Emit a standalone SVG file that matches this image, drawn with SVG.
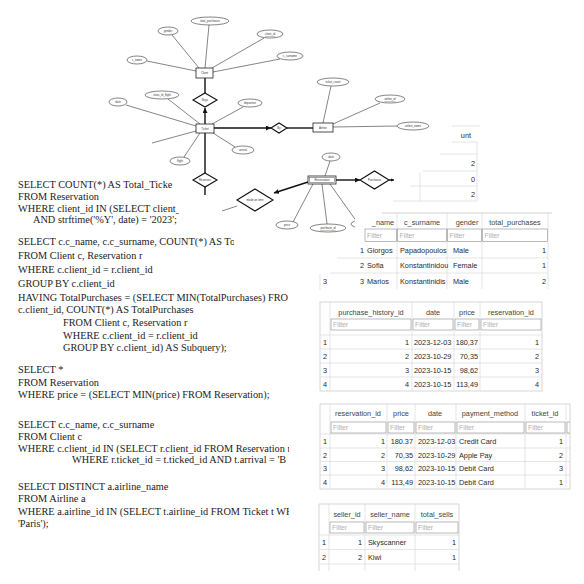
<svg xmlns="http://www.w3.org/2000/svg" width="584" height="584" viewBox="0 0 584 584">
<defs>
<style>
.sql{font-family:"Liberation Serif","Times New Roman",serif;font-size:10.3px;fill:#222}
.ln{stroke:#333;stroke-width:0.6;fill:none}
.tk{stroke:#111;stroke-width:1.4;fill:none}
.attr{fill:#fff;stroke:#333;stroke-width:0.6}
.ent{fill:#fff;stroke:#222;stroke-width:0.8}
.rel{fill:#fff;stroke:#111;stroke-width:1.1}
.lbl{font-family:"Liberation Sans",Arial,sans-serif;font-size:2.8px;fill:#333;text-anchor:middle;dominant-baseline:central}
.t{font-family:"Liberation Sans",Arial,sans-serif;font-size:7.3px;fill:#2a2a2a}
.th{text-anchor:middle;fill:#444}
.r{text-anchor:end}
.flt{fill:#b0b0b0;font-size:6.8px}
.grid{stroke:#dadada;stroke-width:0.7;fill:none}
.fb{fill:#fff;stroke:#8c8c8c;stroke-width:0.6}
.frame{fill:#fff;stroke:#c6c6c6;stroke-width:0.7}
</style>
<marker id="arr" viewBox="0 0 10 10" refX="10" refY="5" markerWidth="5" markerHeight="5" markerUnits="userSpaceOnUse" orient="auto"><path d="M0,0 L10,5 L0,10 z" fill="#111"/></marker>
<marker id="arrs" viewBox="0 0 10 10" refX="10" refY="5" markerWidth="3.5" markerHeight="3.5" markerUnits="userSpaceOnUse" orient="auto"><path d="M0,0 L10,5 L0,10 z" fill="#111"/></marker>
<clipPath id="c178"><rect x="0" y="0" width="179" height="584"/></clipPath>
<clipPath id="c233"><rect x="0" y="0" width="234" height="584"/></clipPath>
<clipPath id="c288"><rect x="0" y="0" width="289" height="584"/></clipPath>
</defs>
<rect width="584" height="584" fill="#fff"/>

<g id="sql-text">
<text class="sql" x="18" y="188" clip-path="url(#c178)">SELECT COUNT(*) AS Total_Ticke</text>
<text class="sql" x="18" y="200">FROM Reservation</text>
<text class="sql" x="18" y="212" clip-path="url(#c178)">WHERE client_id IN (SELECT client_id FR</text>
<text class="sql" x="33" y="223">AND strftime('%Y', date) = '2023';</text>

<text class="sql" x="18" y="245" clip-path="url(#c233)">SELECT c.c_name, c.c_surname, COUNT(*) AS Tot</text>
<text class="sql" x="18" y="259">FROM Client c, Reservation r</text>
<text class="sql" x="18" y="273">WHERE c.client_id = r.client_id</text>
<text class="sql" x="18" y="287">GROUP BY c.client_id</text>
<text class="sql" x="18" y="301" clip-path="url(#c288)">HAVING TotalPurchases = (SELECT MIN(TotalPurchases) FRO</text>
<text class="sql" x="18" y="313">c.client_id, COUNT(*) AS TotalPurchases</text>
<text class="sql" x="63" y="326">FROM Client c, Reservation r</text>
<text class="sql" x="63" y="339">WHERE c.client_id = r.client_id</text>
<text class="sql" x="63" y="351">GROUP BY c.client_id) AS Subquery);</text>

<text class="sql" x="18" y="373">SELECT *</text>
<text class="sql" x="18" y="386">FROM Reservation</text>
<text class="sql" x="18" y="398">WHERE price = (SELECT MIN(price) FROM Reservation);</text>

<text class="sql" x="18" y="428">SELECT c.c_name, c.c_surname</text>
<text class="sql" x="18" y="440">FROM Client c</text>
<text class="sql" x="18" y="452" clip-path="url(#c288)">WHERE c.client_id IN (SELECT r.client_id FROM Reservation r</text>
<text class="sql" x="72" y="463" clip-path="url(#c288)">WHERE r.ticket_id = t.ticked_id AND t.arrival = 'B</text>

<text class="sql" x="18" y="490">SELECT DISTINCT a.airline_name</text>
<text class="sql" x="18" y="502">FROM Airline a</text>
<text class="sql" x="18" y="515" clip-path="url(#c288)">WHERE a.airline_id IN (SELECT t.airline_id FROM Ticket t WH</text>
<text class="sql" x="18" y="527">'Paris');</text>
</g>

<g id="connectors">
<path class="ln" d="M147,61 L196,71"/>
<path class="ln" d="M172,35 L199,68"/>
<path class="ln" d="M209,25 L205,68"/>
<path class="ln" d="M264,38 L212,68"/>
<path class="ln" d="M280,59 L213,72"/>
<path class="ln" d="M168,99 L200,124"/>
<path class="ln" d="M126,105 L196,126"/>
<path class="ln" d="M243,107 L212,124"/>
<path class="ln" d="M235,147 L213,133"/>
<path class="ln" d="M184,157 L200,133"/>
<path class="ln" d="M152,143 L196,131"/>
<path class="ln" d="M331,86 L323,123"/>
<path class="ln" d="M380,103 L333,124"/>
<path class="ln" d="M397,126 L333,127"/>
<path class="ln" d="M330,161 L325,176"/>
<path class="ln" d="M293,222 L313,184"/>
<path class="ln" d="M327,224 L322,184"/>
<path class="ln" d="M330,184 L357,222"/>
<path class="ln" d="M222,211 L237,206"/>
<path class="tk" d="M205,78 L205,93"/>
<path class="tk" d="M205,124 L205,108" marker-end="url(#arr)"/>
<path class="tk" d="M205,133 L205,173"/>
<path class="tk" d="M205,187 L205,195"/>
<path class="tk" d="M214,128 L271,128" marker-end="url(#arr)"/>
<path class="tk" d="M287,128 L313,128"/>
<path class="tk" d="M336,180 L360,180" marker-end="url(#arr)"/>
<path class="tk" d="M389,180 L394,180" marker-end="url(#arrs)"/>
<path class="tk" d="M308,182 L274,193" marker-end="url(#arr)"/>
</g>

<g id="client">
<rect class="ent" x="196" y="68" width="17" height="10"/>
<text class="lbl" x="204.5" y="73">Client</text>
</g>
<g id="attr-c_name"><ellipse class="attr" cx="137" cy="60" rx="10" ry="4"/><text class="lbl" x="137" y="60">c_name</text></g>
<g id="attr-gender"><ellipse class="attr" cx="168" cy="31" rx="10" ry="4"/><text class="lbl" x="168" y="31">gender</text></g>
<g id="attr-total_purchases"><ellipse class="attr" cx="210" cy="21" rx="19" ry="4"/><text class="lbl" x="210" y="21">total_purchases</text></g>
<g id="attr-client_id"><ellipse class="attr" cx="270" cy="34" rx="13" ry="4"/><text class="lbl" x="270" y="34" text-decoration="underline">client_id</text></g>
<g id="attr-c_surname"><ellipse class="attr" cx="290" cy="56" rx="13" ry="4"/><text class="lbl" x="290" y="56">c_surname</text></g>
<g id="rel-buys"><polygon class="rel" points="205,93 217,100 205,107 193,100"/><text class="lbl" x="205" y="100">Buys</text></g>

<g id="ticket">
<rect class="ent" x="196" y="124" width="18" height="9" stroke-width="1.1"/>
<text class="lbl" x="205" y="128.5">Ticket</text>
</g>
<g id="attr-class_of_flight"><ellipse class="attr" cx="162" cy="95" rx="17" ry="4"/><text class="lbl" x="162" y="95">class_of_flight</text></g>
<g id="attr-ticket-date"><ellipse class="attr" cx="118" cy="102" rx="9" ry="4"/><text class="lbl" x="118" y="102">date</text></g>
<g id="attr-departure"><ellipse class="attr" cx="250" cy="103" rx="12" ry="4"/><text class="lbl" x="250" y="103">departure</text></g>
<g id="attr-arrival"><ellipse class="attr" cx="243" cy="150" rx="11" ry="4"/><text class="lbl" x="243" y="150">arrival</text></g>
<g id="attr-flight"><ellipse class="attr" cx="180" cy="161" rx="10" ry="4"/><text class="lbl" x="180" y="161">flight</text></g>
<g id="rel-reserves"><polygon class="rel" points="205,173 217,180 205,187 193,180"/><text class="lbl" x="205" y="180">Reserves</text></g>
<g id="rel-by"><polygon class="rel" points="271,128 279,123 287,128 279,133"/><text class="lbl" x="279" y="128">By</text></g>

<g id="airline">
<rect class="ent" x="313" y="123" width="20" height="9"/>
<text class="lbl" x="323" y="127.5">Airline</text>
</g>
<g id="attr-ticket_count"><ellipse class="attr" cx="333" cy="82" rx="16" ry="4"/><text class="lbl" x="333" y="82">ticket_count</text></g>
<g id="attr-airline_id"><ellipse class="attr" cx="390" cy="99" rx="15" ry="4"/><text class="lbl" x="390" y="99" text-decoration="underline">airline_id</text></g>
<g id="attr-airline_name"><ellipse class="attr" cx="413" cy="126" rx="16" ry="4"/><text class="lbl" x="413" y="126">airline_name</text></g>

<g id="reservation">
<rect class="ent" x="308" y="176" width="28" height="8" stroke-width="1.3"/>
<rect x="309.5" y="177.5" width="25" height="5" fill="none" stroke="#222" stroke-width="0.4"/>
<text class="lbl" x="322" y="180">Reservation</text>
</g>
<g id="attr-res-date"><ellipse class="attr" cx="331" cy="157" rx="9" ry="4"/><text class="lbl" x="331" y="157">date</text></g>
<g id="attr-price"><ellipse class="attr" cx="287" cy="225" rx="11" ry="4"/><text class="lbl" x="287" y="225">price</text></g>
<g id="attr-purchase_id"><ellipse class="attr" cx="328" cy="228" rx="18" ry="4"/><text class="lbl" x="328" y="228" text-decoration="underline">purchase_id</text></g>
<g id="attr-hidden"><ellipse class="attr" cx="364" cy="224" rx="13" ry="4"/></g>
<g id="rel-purchases"><polygon class="rel" points="360,180 374.5,171 389,180 374.5,189"/><text class="lbl" x="374.5" y="180">Purchases</text></g>
<g id="rel-made-on-time"><polygon class="rel" points="237,200 255,189 273,200 255,211"/><text class="lbl" x="255" y="200">made on time</text></g>

<g id="table-count">
<path class="grid" d="M452,126 H480 M452,142 H477 M440,154 H477 M477,142 V201 M423,171 H477 M410,186 H477 M393,201 H477 M420,173 V201"/>
<text class="t r" x="471" y="137.5">unt</text>
<text class="t r" x="475" y="165.6">2</text>
<text class="t r" x="475" y="181.6">0</text>
<text class="t r" x="475" y="196.6">2</text>
</g>

<g id="table-client">
<rect x="355" y="210" width="200" height="82" fill="#fff"/>
<path d="M382,213 H552" stroke="#bdbdbd" stroke-width="0.7"/>
<path class="grid" d="M397,213 V289 M447,213 V289 M482,213 V289 M548,213 V289 M337,258 H548 M330,273 H548 M320,274 V290"/>
<text class="t th" x="383" y="224.6">_name</text>
<text class="t th" x="422" y="224.6">c_surname</text>
<text class="t th" x="467" y="224.6">gender</text>
<text class="t th" x="515" y="224.6">total_purchases</text>
<rect class="fb" x="365" y="229" width="31.5" height="12.5"/>
<rect class="fb" x="397.5" y="229" width="49" height="12.5"/>
<rect class="fb" x="447.5" y="229" width="34" height="12.5"/>
<rect class="fb" x="482.5" y="229" width="65" height="12.5"/>
<text class="t flt" x="367" y="237.8">Filter</text>
<text class="t flt" x="399.5" y="237.8">Filter</text>
<text class="t flt" x="449.5" y="237.8">Filter</text>
<text class="t flt" x="484.5" y="237.8">Filter</text>
<text class="t r" x="364" y="252.6">1</text>
<text class="t" x="367" y="252.6">Giorgos</text>
<text class="t" x="400" y="252.6">Papadopoulos</text>
<text class="t" x="453" y="252.6">Male</text>
<text class="t r" x="546" y="252.6">1</text>
<text class="t r" x="364" y="267.6">2</text>
<text class="t" x="367" y="267.6">Sofia</text>
<text class="t" x="400" y="267.6">Konstantinidou</text>
<text class="t" x="453" y="267.6">Female</text>
<text class="t r" x="546" y="267.6">1</text>
<text class="t" x="323" y="283.6">3</text>
<text class="t r" x="364" y="283.6">3</text>
<text class="t" x="367" y="283.6">Marios</text>
<text class="t" x="400" y="283.6">Konstantinidis</text>
<text class="t" x="453" y="283.6">Male</text>
<text class="t r" x="546" y="283.6">2</text>
</g>

<g id="table-purchase-history">
<rect class="frame" x="320" y="302" width="222" height="89"/>
<path class="grid" d="M330,302 V391 M412,302 V391 M454,302 V391 M480,302 V391 M320,335 H542 M320,349 H542 M320,363 H542 M320,377 H542"/>
<text class="t th" x="371" y="314.6">purchase_history_id</text>
<text class="t th" x="433" y="314.6">date</text>
<text class="t th" x="467" y="314.6">price</text>
<text class="t th" x="511" y="314.6">reservation_id</text>
<rect class="fb" x="331" y="319" width="80" height="11"/>
<rect class="fb" x="413" y="319" width="40" height="11"/>
<rect class="fb" x="455" y="319" width="24" height="11"/>
<rect class="fb" x="481" y="319" width="60" height="11"/>
<text class="t flt" x="333" y="327">Filter</text>
<text class="t flt" x="415" y="327">Filter</text>
<text class="t flt" x="457" y="327">Filter</text>
<text class="t flt" x="483" y="327">Filter</text>
<text class="t" x="323" y="344.6">1</text><text class="t r" x="409" y="344.6">1</text><text class="t" x="414" y="344.6">2023-12-03</text><text class="t r" x="478" y="344.6">180,37</text><text class="t r" x="539" y="344.6">1</text>
<text class="t" x="323" y="358.6">2</text><text class="t r" x="409" y="358.6">2</text><text class="t" x="414" y="358.6">2023-10-29</text><text class="t r" x="478" y="358.6">70,35</text><text class="t r" x="539" y="358.6">2</text>
<text class="t" x="323" y="372.6">3</text><text class="t r" x="409" y="372.6">3</text><text class="t" x="414" y="372.6">2023-10-15</text><text class="t r" x="478" y="372.6">98,62</text><text class="t r" x="539" y="372.6">3</text>
<text class="t" x="323" y="386.6">4</text><text class="t r" x="409" y="386.6">4</text><text class="t" x="414" y="386.6">2023-10-15</text><text class="t r" x="478" y="386.6">113,49</text><text class="t r" x="539" y="386.6">4</text>
</g>

<g id="table-reservation">
<rect class="frame" x="320" y="404" width="250" height="85"/>
<path class="grid" d="M330,404 V489 M387,404 V489 M415,404 V489 M456,404 V489 M525,404 V489 M566,404 V489 M320,434 H570 M320,448 H570 M320,461.5 H570 M320,475 H570"/>
<text class="t th" x="358" y="415.6">reservation_id</text>
<text class="t th" x="401" y="415.6">price</text>
<text class="t th" x="435" y="415.6">date</text>
<text class="t th" x="490" y="415.6">payment_method</text>
<text class="t th" x="545" y="415.6">ticket_id</text>
<rect class="fb" x="331" y="422" width="55" height="11"/>
<rect class="fb" x="388" y="422" width="26" height="11"/>
<rect class="fb" x="416" y="422" width="39" height="11"/>
<rect class="fb" x="457" y="422" width="67" height="11"/>
<rect class="fb" x="526" y="422" width="39" height="11"/>
<path d="M567,422 H570 M567,422 V433 M567,433 H570" stroke="#8c8c8c" stroke-width="0.6" fill="none"/>
<text class="t flt" x="333" y="430">Filter</text>
<text class="t flt" x="390" y="430">Filter</text>
<text class="t flt" x="418" y="430">Filter</text>
<text class="t flt" x="459" y="430">Filter</text>
<text class="t flt" x="528" y="430">Filter</text>
<text class="t" x="323" y="443.6">1</text><text class="t r" x="385" y="443.6">1</text><text class="t r" x="413" y="443.6">180.37</text><text class="t" x="418" y="443.6">2023-12-03</text><text class="t" x="459" y="443.6">Credit Card</text><text class="t r" x="563" y="443.6">1</text>
<text class="t" x="323" y="457.6">2</text><text class="t r" x="385" y="457.6">2</text><text class="t r" x="413" y="457.6">70,35</text><text class="t" x="418" y="457.6">2023-10-29</text><text class="t" x="459" y="457.6">Apple Pay</text><text class="t r" x="563" y="457.6">2</text>
<text class="t" x="323" y="470.6">3</text><text class="t r" x="385" y="470.6">3</text><text class="t r" x="413" y="470.6">98,62</text><text class="t" x="418" y="470.6">2023-10-15</text><text class="t" x="459" y="470.6">Debit Card</text><text class="t r" x="563" y="470.6">3</text>
<text class="t" x="323" y="484.6">4</text><text class="t r" x="385" y="484.6">4</text><text class="t r" x="413" y="484.6">113,49</text><text class="t" x="418" y="484.6">2023-10-15</text><text class="t" x="459" y="484.6">Debit Card</text><text class="t r" x="563" y="484.6">1</text>
</g>

<g id="table-seller">
<path d="M319,571 V504 H459 V571" fill="#fff" stroke="#c6c6c6" stroke-width="0.7"/>
<path class="grid" d="M329,504 V571 M365,504 V571 M415,504 V571 M319,535 H459 M319,549.5 H459 M319,564 H459"/>
<text class="t th" x="347" y="516.6">seller_id</text>
<text class="t th" x="390" y="516.6">seller_name</text>
<text class="t th" x="437" y="516.6">total_sells</text>
<rect class="fb" x="330" y="522" width="34" height="11"/>
<rect class="fb" x="366" y="522" width="48" height="11"/>
<rect class="fb" x="416" y="522" width="42" height="11"/>
<text class="t flt" x="332" y="530">Filter</text>
<text class="t flt" x="368" y="530">Filter</text>
<text class="t flt" x="418" y="530">Filter</text>
<text class="t" x="322" y="544.6">1</text><text class="t r" x="362" y="544.6">1</text><text class="t" x="368" y="544.6">Skyscanner</text><text class="t r" x="456" y="544.6">1</text>
<text class="t" x="322" y="559.6">2</text><text class="t r" x="362" y="559.6">2</text><text class="t" x="368" y="559.6">Kiwi</text><text class="t r" x="456" y="559.6">1</text>
</g>
</svg>
